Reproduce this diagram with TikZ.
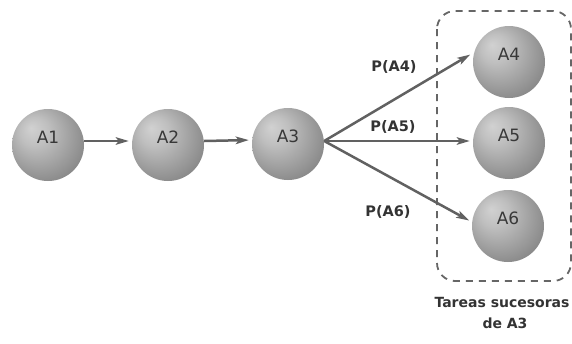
\documentclass[tikz,border=0pt]{standalone}
\usepackage{fontspec}
\setmainfont{DejaVu Sans}
\usetikzlibrary{arrows.meta}
\pgfdeclareradialshading{sphere}{\pgfpoint{-12bp}{12bp}}{%
  color(0bp)=(black!18); color(10bp)=(black!25); color(30bp)=(black!45); color(42bp)=(black!58); color(50bp)=(black!60)}
% task name set a little above the centre of its ball
\newcommand\tasktext[1]{\raisebox{1.5pt}[0pt][0pt]{#1}}
\tikzset{
  task/.style={circle, minimum size=72pt, inner sep=0pt, shading=sphere,
    text=black!78, font=\fontsize{17}{17}\selectfont},
  link/.style={draw=black!62, line width=2.5pt,
    -{Stealth[length=13pt,width=7.5pt,inset=3pt]}, shorten >=3pt},
  prob/.style={font=\bfseries\fontsize{14.5}{14.5}\selectfont, text=black!80},
  group/.style={draw=black!60, line width=1.8pt, dash pattern=on 7pt off 6pt,
    rounded corners=18pt},
  caption/.style={font=\bfseries\fontsize{14}{14}\selectfont, text=black!80}
}
\begin{document}
\begin{tikzpicture}[x=1pt,y=-1pt]
  \useasboundingbox (0,0) rectangle (572,343);
  % group of successor tasks
  \draw[group] (437,11) rectangle (571,281);
  % tasks
  \node[task] (a1) at (48,145) {\tasktext{A1}};
  \node[task] (a2) at (168,145) {\tasktext{A2}};
  \node[task] (a3) at (288,144) {\tasktext{A3}};
  \node[task] (a4) at (509,62) {\tasktext{A4}};
  \node[task] (a5) at (509,143) {\tasktext{A5}};
  \node[task] (a6) at (508,226) {\tasktext{A6}};
  % anchor points of the links, a little above the centre line
  \coordinate (o1) at ([yshift=4pt]a1.east);
  \coordinate (i2) at ([yshift=4pt]a2.west);
  \coordinate (o2) at ([yshift=4pt]a2.east);
  \coordinate (i3) at ([yshift=4pt]a3.west);
  \coordinate (o3) at ([yshift=3pt]a3.east);
  \coordinate (i4) at ([yshift=9pt]a4.west);
  \coordinate (i5) at ([yshift=2pt]a5.west);
  \coordinate (i6) at ([yshift=4pt]a6.west);
  % precedence links
  \draw[link] (o1) -- (i2);
  \draw[link] (o2) -- (i3);
  \draw[link] (o3) -- (i4);
  \draw[link] (o3) -- (i5);
  \draw[link] (o3) -- (i6);
  % transition probabilities
  \node[prob] (p4) at (394,67) {P(A4)};
  \node[prob] (p5) at (393,127) {P(A5)};
  \node[prob] (p6) at (388,212) {P(A6)};
  % caption of the group
  \node[caption] (c1) at (502,302) {Tareas sucesoras};
  \node[caption] (c2) at (505,323) {de A3};
\end{tikzpicture}
\end{document}
